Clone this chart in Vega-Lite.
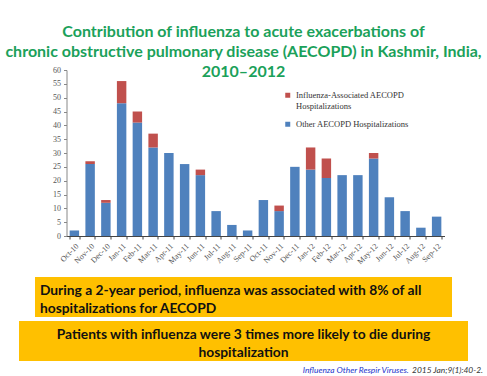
{
  "$schema": "https://vega.github.io/schema/vega-lite/v6.json",
  "background": "white",
  "padding": {"left": 4, "right": 4, "top": 24, "bottom": 4},
  "title": {
    "text": ["Contribution of influenza to acute exacerbations of", "chronic obstructive pulmonary disease (AECOPD) in Kashmir, India,", "2010–2012"],
    "font": "Lato", "fontSize": 16, "fontWeight": "bold", "color": "#1BA15A",
    "anchor": "middle", "lineHeight": 20, "offset": -14, "baseline": "top"
  },
  "config": {"view": {"stroke": null}, "font": "Lato"},
  "resolve": {"scale": {"color": "independent"}},
  "center": true,
  "spacing": 4,
  "vconcat": [
    {
      "spacing": 0,
      "hconcat": [
        {"width": 10, "height": 166, "data": {"values": []}, "mark": "point"},
        {
          "width": 378, "height": 166,
          "data": {"values": [
            {"month": "Oct-10", "series": "Other AECOPD Hospitalizations", "value": 2},
            {"month": "Nov-10", "series": "Other AECOPD Hospitalizations", "value": 26},
            {"month": "Nov-10", "series": "Influenza-Associated AECOPD Hospitalizations", "value": 1},
            {"month": "Dec-10", "series": "Other AECOPD Hospitalizations", "value": 12},
            {"month": "Dec-10", "series": "Influenza-Associated AECOPD Hospitalizations", "value": 1},
            {"month": "Jan-11", "series": "Other AECOPD Hospitalizations", "value": 48},
            {"month": "Jan-11", "series": "Influenza-Associated AECOPD Hospitalizations", "value": 8},
            {"month": "Feb-11", "series": "Other AECOPD Hospitalizations", "value": 41},
            {"month": "Feb-11", "series": "Influenza-Associated AECOPD Hospitalizations", "value": 4},
            {"month": "Mar-11", "series": "Other AECOPD Hospitalizations", "value": 32},
            {"month": "Mar-11", "series": "Influenza-Associated AECOPD Hospitalizations", "value": 5},
            {"month": "Apr-11", "series": "Other AECOPD Hospitalizations", "value": 30},
            {"month": "May-11", "series": "Other AECOPD Hospitalizations", "value": 26},
            {"month": "Jun-11", "series": "Other AECOPD Hospitalizations", "value": 22},
            {"month": "Jun-11", "series": "Influenza-Associated AECOPD Hospitalizations", "value": 2},
            {"month": "Jul-11", "series": "Other AECOPD Hospitalizations", "value": 9},
            {"month": "Aug-11", "series": "Other AECOPD Hospitalizations", "value": 4},
            {"month": "Sep-11", "series": "Other AECOPD Hospitalizations", "value": 2},
            {"month": "Oct-11", "series": "Other AECOPD Hospitalizations", "value": 13},
            {"month": "Nov-11", "series": "Other AECOPD Hospitalizations", "value": 9},
            {"month": "Nov-11", "series": "Influenza-Associated AECOPD Hospitalizations", "value": 2},
            {"month": "Dec-11", "series": "Other AECOPD Hospitalizations", "value": 25},
            {"month": "Jan-12", "series": "Other AECOPD Hospitalizations", "value": 24},
            {"month": "Jan-12", "series": "Influenza-Associated AECOPD Hospitalizations", "value": 8},
            {"month": "Feb-12", "series": "Other AECOPD Hospitalizations", "value": 21},
            {"month": "Feb-12", "series": "Influenza-Associated AECOPD Hospitalizations", "value": 7},
            {"month": "Mar-12", "series": "Other AECOPD Hospitalizations", "value": 22},
            {"month": "Apr-12", "series": "Other AECOPD Hospitalizations", "value": 22},
            {"month": "May-12", "series": "Other AECOPD Hospitalizations", "value": 28},
            {"month": "May-12", "series": "Influenza-Associated AECOPD Hospitalizations", "value": 2},
            {"month": "Jun-12", "series": "Other AECOPD Hospitalizations", "value": 14},
            {"month": "Jul-12", "series": "Other AECOPD Hospitalizations", "value": 9},
            {"month": "Aug-12", "series": "Other AECOPD Hospitalizations", "value": 3},
            {"month": "Sep-12", "series": "Other AECOPD Hospitalizations", "value": 7}
          ]},
          "mark": {"type": "bar"},
          "encoding": {
            "x": {
              "field": "month", "type": "ordinal", "sort": null,
              "scale": {"paddingInner": 0.4, "paddingOuter": 0.2},
              "axis": {"title": "M", "titleColor": "#ffffff", "titleFontSize": 4, "titlePadding": 3,
                "labelAngle": -45, "labelFont": "Liberation Serif", "labelFontSize": 8, "labelColor": "#555555", "domainColor": "#444444", "tickColor": "#444444", "tickBand": "extent", "tickSize": 3, "labelPadding": 3}
            },
            "y": {
              "field": "value", "type": "quantitative", "stack": "zero",
              "scale": {"domain": [0, 60], "nice": false},
              "axis": {"title": null,
                "grid": false, "values": [0, 5, 10, 15, 20, 25, 30, 35, 40, 45, 50, 55, 60], "labelFont": "Liberation Serif", "labelFontSize": 8, "labelColor": "#555555", "domainColor": "#888888", "tickColor": "#888888", "tickSize": 3, "labelPadding": 3}
            },
            "color": {
              "field": "series", "type": "nominal",
              "scale": {"domain": ["Influenza-Associated AECOPD Hospitalizations", "Other AECOPD Hospitalizations"], "range": ["#C0504D", "#4F81BD"]},
              "legend": {
                "title": null, "orient": "none", "legendX": 241, "legendY": 21,
                "labelFont": "Liberation Serif", "labelFontSize": 8.5, "labelColor": "#333333",
                "labelLimit": 250, "symbolType": "square", "symbolSize": 25, "rowPadding": 9,
                "labelExpr": "datum.label == 'Influenza-Associated AECOPD Hospitalizations' ? ['Influenza-Associated AECOPD', 'Hospitalizations'] : datum.label"
              }
            },
            "order": {"field": "series", "sort": "descending"}
          }
        }
      ]
    },
    {
      "width": 417, "height": 40,
      "view": {"fill": "#FFC000", "stroke": null},
      "data": {"values": [{"pos": 0, "note": ["During a 2-year period, influenza was associated with 8% of all", "hospitalizations for AECOPD"]}]},
      "mark": {
        "type": "text", "align": "left", "baseline": "middle", "dy": -6,
        "font": "Lato", "fontWeight": "bold", "fontSize": 13.8, "lineHeight": 18, "color": "#111111"
      },
      "encoding": {
        "x": {"field": "pos", "type": "quantitative", "scale": {"domain": [-0.012, 1]}, "axis": null},
        "text": {"field": "note"}
      }
    },
    {
      "width": 449, "height": 40,
      "view": {"fill": "#FFC000", "stroke": null},
      "data": {"values": [{"pos": 0.5, "note": ["Patients with influenza were 3 times more likely to die during", "hospitalization"]}]},
      "mark": {
        "type": "text", "align": "center", "baseline": "middle", "dy": -6,
        "font": "Lato", "fontWeight": "bold", "fontSize": 13.8, "lineHeight": 18, "color": "#111111"
      },
      "encoding": {
        "x": {"field": "pos", "type": "quantitative", "scale": {"domain": [0, 1]}, "axis": null},
        "text": {"field": "note"}
      }
    },
    {
      "width": 479, "height": 10,
      "data": {"values": [
        {"pos": 0.845, "note": "Influenza Other Respir Viruses.", "kind": "link"},
        {"pos": 1, "note": "2015 Jan;9(1):40-2.", "kind": "ref"}
      ]},
      "mark": {"type": "text", "align": "right", "baseline": "middle", "font": "Lato", "fontStyle": "italic", "fontSize": 8.4},
      "encoding": {
        "x": {"field": "pos", "type": "quantitative", "scale": {"domain": [0, 1]}, "axis": null},
        "text": {"field": "note"},
        "color": {"field": "kind", "type": "nominal", "scale": {"domain": ["link", "ref"], "range": ["#2233CC", "#333333"]}, "legend": null}
      }
    }
  ]
}
